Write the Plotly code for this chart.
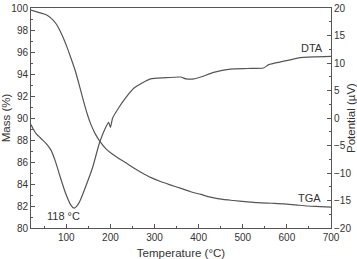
import plotly.graph_objects as go

# TGA: mass (%) vs temperature (°C)
tga_temp = [20, 37, 50, 60, 70, 78, 86, 94, 102, 110, 121, 132, 140, 148, 156, 165, 175, 190, 205, 220, 234,
            253, 270, 291, 315, 337, 360, 382, 405, 427, 455, 479, 505, 534, 565, 593, 620, 647, 675, 700]
tga_mass = [99.8, 99.6, 99.45, 99.25, 98.9, 98.5, 97.9, 97.2, 96.4, 95.5, 94.2, 92.6, 91.4, 90.3, 89.4, 88.6,
            87.95, 87.2, 86.7, 86.3, 85.95, 85.45, 85.05, 84.6, 84.2, 83.9, 83.6, 83.3, 83.05, 82.8, 82.6, 82.5,
            82.4, 82.3, 82.25, 82.2, 82.1, 82.0, 81.95, 81.9]

# DTA: potential (µV) vs temperature (°C)
dta_temp = [20, 25, 32, 45, 55, 65, 75, 85, 98, 110, 118, 125, 132, 148, 160, 175, 190, 196, 200, 205,
            216, 234, 253, 273, 291, 321, 359, 372, 389, 405, 434, 472, 511, 547, 559, 586, 625, 661, 700]
dta_uv = [-1.2, -2.0, -2.9, -3.9, -4.7, -5.8, -7.8, -10.4, -13.6, -15.8, -16.4, -15.9, -14.9, -11.6, -8.9,
          -4.6, -1.6, -0.8, -1.7, 0.0, 1.5, 3.6, 5.4, 6.4, 7.1, 7.3, 7.45, 7.1, 7.1, 7.45, 8.3, 8.9, 9.0,
          9.1, 9.7, 10.2, 10.9, 11.1, 11.2]

x_ticks = [100, 200, 300, 400, 500, 600, 700]
mass_ticks = [80, 82, 84, 86, 88, 90, 92, 94, 96, 98, 100]
uv_ticks = [-20, -15, -10, -5, 0, 5, 10, 15, 20]

line_col = "#555555"
axis_col = "#555555"
font_col = "#333333"
font_family = "Liberation Sans, Arial, sans-serif"

fig = go.Figure()
fig.add_trace(go.Scatter(x=tga_temp, y=tga_mass, mode="lines", yaxis="y",
                         line=dict(color=line_col, width=1.2, shape="spline", smoothing=0.8),
                         showlegend=False, hoverinfo="skip"))
fig.add_trace(go.Scatter(x=dta_temp, y=dta_uv, mode="lines", yaxis="y2",
                         line=dict(color=line_col, width=1.2, shape="spline", smoothing=0.5),
                         showlegend=False, hoverinfo="skip"))

common_axis = dict(showgrid=False, zeroline=False, showline=True, linecolor=axis_col, linewidth=1,
                   ticks="inside", ticklen=4, tickcolor=axis_col, tickwidth=1, automargin=False,
                   tickfont=dict(size=10, color=font_col, family=font_family))

fig.update_layout(
    width=357, height=259,
    margin=dict(l=31, r=26, t=8, b=31),
    paper_bgcolor="white", plot_bgcolor="white",
    font=dict(family=font_family, color=font_col, size=10),
    xaxis=dict(range=[20, 700], tickvals=x_ticks, mirror=True,
               minor=dict(dtick=50, tick0=0, ticks="inside", ticklen=2, tickcolor=axis_col),
               title=dict(text="Temperature (°C)", font=dict(size=11.5, color=font_col), standoff=6),
               **common_axis),
    yaxis=dict(range=[80, 100], tickvals=mass_ticks,
               minor=dict(dtick=1, tick0=80, ticks="inside", ticklen=2, tickcolor=axis_col),
               title=dict(text="Mass (%)", font=dict(size=11.5, color=font_col), standoff=4),
               **common_axis),
    yaxis2=dict(range=[-20, 20], tickvals=uv_ticks, overlaying="y", side="right",
                minor=dict(dtick=2.5, tick0=0, ticks="inside", ticklen=2, tickcolor=axis_col),
                title=dict(text="Potential (µV)", font=dict(size=11.5, color=font_col), standoff=4),
                **common_axis),
    annotations=[
        dict(x=94, y=81.1, xref="x", yref="y", text="118 °C", showarrow=False,
             font=dict(size=11, color=font_col)),
        dict(x=652, y=82.75, xref="x", yref="y", text="TGA", showarrow=False,
             font=dict(size=11, color=font_col)),
        dict(x=658, y=96.4, xref="x", yref="y", text="DTA", showarrow=False,
             font=dict(size=11, color=font_col)),
    ],
)

fig.write_html("out.html")
